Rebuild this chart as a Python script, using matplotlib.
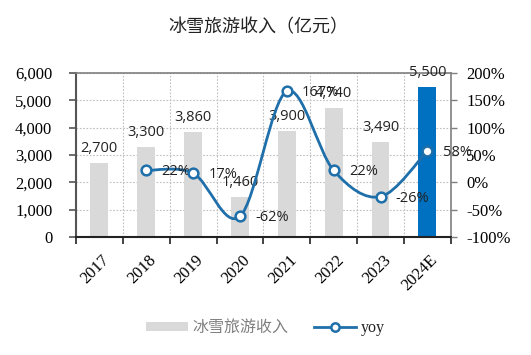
import numpy as np
import matplotlib
matplotlib.use("Agg")
import matplotlib.pyplot as plt
from matplotlib.path import Path
from matplotlib.patches import PathPatch, Rectangle
from matplotlib.lines import Line2D
from matplotlib.ticker import FuncFormatter

# data
years = ["2017", "2018", "2019", "2020", "2021", "2022", "2023", "2024E"]
revenue = [2700, 3300, 3860, 1460, 3900, 4740, 3490, 5500]
yoy = [None, 0.22, 0.17, -0.62, 1.67, 0.22, -0.26, 0.58]

GRAY = "#D9D9D9"
BLUE_BAR = "#0070C0"
BLUE_LINE = "#1F6FAA"
SERIF = ["Liberation Serif", "DejaVu Serif"]
CJK = ["Noto Sans CJK SC", "DejaVu Sans"]
NUM = ["Open Sans", "DejaVu Sans"]

plt.rcParams["hatch.color"] = "#E4E4E4"
plt.rcParams["hatch.linewidth"] = 0.8

fig = plt.figure(figsize=(5.31, 3.55), dpi=100)
ax = fig.add_axes([0.143, 0.332, 0.706, 0.462])
ax2 = ax.twinx()

x = np.arange(len(years))

# hatched plot background
ax.add_patch(Rectangle((0, 0), 1, 1, transform=ax.transAxes, facecolor="white",
                       hatch="////", edgecolor="none", lw=0, zorder=0))

colors = [GRAY] * (len(years) - 1) + [BLUE_BAR]
bars = ax.bar(x, revenue, width=0.38, color=colors, zorder=2)
for xi, v in zip(x, revenue):
    ax.annotate(f"{v:,}", (xi, v), xytext=(0, 5), textcoords="offset points",
                ha="center", va="bottom", fontsize=10.5, family=NUM, color="#222222")

ax.set_xlim(-0.5, len(years) - 0.5)
ax.set_ylim(0, 6000)
ax.set_yticks(np.arange(0, 6001, 1000))
ax.yaxis.set_major_formatter(FuncFormatter(lambda v, p: f"{int(v):,}"))
ax.set_xticks(np.arange(-0.5, len(years), 1.0))
ax.set_xticklabels([])
ax.set_xticks(x + 0.05, minor=True)
ax.set_xticklabels(years, minor=True, rotation=45, ha="right", rotation_mode="anchor",
                   family=SERIF, fontsize=12)
ax.tick_params(axis="x", which="minor", length=0, pad=11)
ax.tick_params(axis="x", which="major", length=5, width=1.2, color="#222222", direction="out")
ax.tick_params(axis="y", length=5, width=1.2, color="#555555", labelsize=12, pad=12)
for lab in ax.get_yticklabels():
    lab.set_family(SERIF)
ax.grid(True, which="major", linestyle=(0, (1.5, 1.5)), color="#BFBFBF", lw=0.8, zorder=1)
ax.set_axisbelow(True)

for s in ["top", "right"]:
    ax.spines[s].set_color("#7F7F7F")
    ax.spines[s].set_linewidth(1.2)
ax.spines["left"].set_color("#555555")
ax.spines["left"].set_linewidth(1.5)
ax.spines["bottom"].set_color("#222222")
ax.spines["bottom"].set_linewidth(1.5)

# yoy smooth line (Catmull-Rom style bezier through the points)
lx = [xi for xi, v in zip(x, yoy) if v is not None]
ly = [v for v in yoy if v is not None]
pts = np.column_stack([lx, ly]).astype(float)
verts = [pts[0]]
codes = [Path.MOVETO]
for i in range(len(pts) - 1):
    p0 = pts[i - 1] if i > 0 else pts[i]
    p1, p2 = pts[i], pts[i + 1]
    p3 = pts[i + 2] if i + 2 < len(pts) else pts[i + 1]
    verts += [p1 + (p2 - p0) / 6, p2 - (p3 - p1) / 6, p2]
    codes += [Path.CURVE4] * 3
ax2.add_patch(PathPatch(Path(verts, codes), facecolor="none", edgecolor=BLUE_LINE,
                        lw=2, zorder=3))
ax2.plot(lx, ly, linestyle="none", marker="o", markersize=7, markerfacecolor="white",
         markeredgecolor=BLUE_LINE, markeredgewidth=1.8, zorder=4)
for xi, v in zip(lx, ly):
    ax2.annotate(f"{v:.0%}", (xi, v), xytext=(11, -1), textcoords="offset points",
                 ha="left", va="center", fontsize=10.5, family=NUM, color="#222222")

ax2.set_ylim(-1, 2)
ax2.set_yticks(np.arange(-1, 2.01, 0.5))
ax2.yaxis.set_major_formatter(FuncFormatter(lambda v, p: f"{v * 100:.0f}%"))
ax2.tick_params(axis="y", length=4, width=1, color="#7F7F7F", pad=7, labelsize=12)
for lab in ax2.get_yticklabels():
    lab.set_family(SERIF)
for s in ax2.spines.values():
    s.set_visible(False)

fig.text(0.486, 0.922, "冰雪旅游收入（亿元）", ha="center", va="center",
         fontsize=13, family=CJK, color="#222222")

handles = [Rectangle((0, 0), 1, 1, facecolor=GRAY, edgecolor="none"),
           Line2D([], [], color=BLUE_LINE, lw=2, marker="o", markersize=6,
                  markerfacecolor="white", markeredgecolor=BLUE_LINE, markeredgewidth=1.8)]
leg = fig.legend(handles, ["冰雪旅游收入", "yoy"], loc="center", bbox_to_anchor=(0.5, 0.078),
                 ncol=2, frameon=False, handlelength=2.6, handleheight=0.5,
                 columnspacing=1.6, handletextpad=0.3, fontsize=11.5)
t1, t2 = leg.get_texts()
t1.set_family(CJK)
t1.set_color("#808080")
t2.set_family(SERIF)
t2.set_color("#222222")

fig.savefig("out.png", dpi=100)
